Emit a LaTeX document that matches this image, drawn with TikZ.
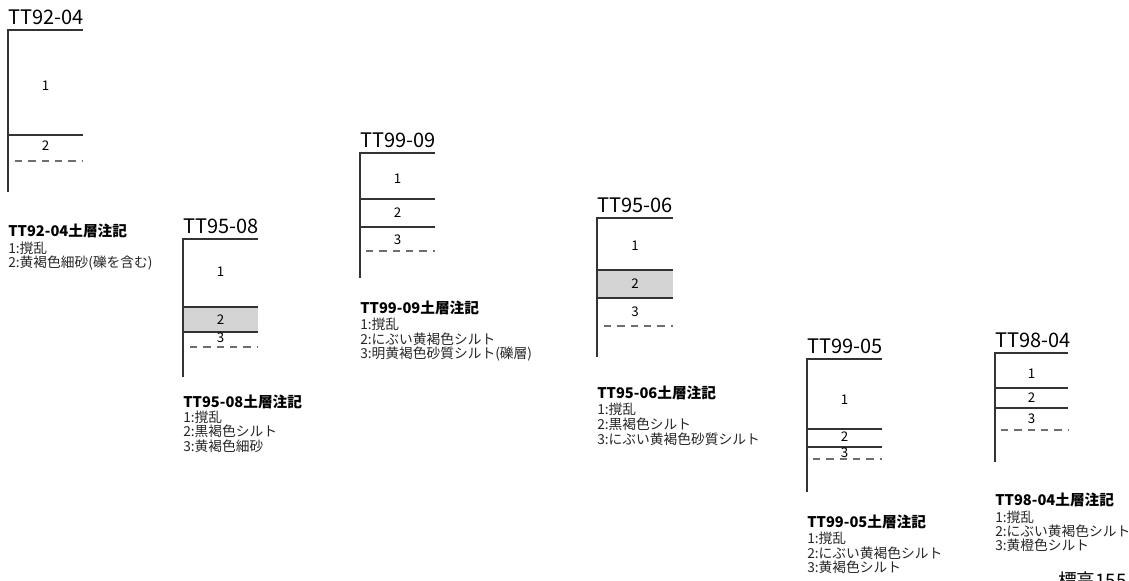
\documentclass[tikz,border=0pt]{standalone}
\usepackage{fontspec}
\setmainfont{Noto Sans CJK JP}
\definecolor{pitline}{HTML}{333333}
\definecolor{dashgray}{HTML}{6E6E6E}
\definecolor{layfill}{HTML}{D4D4D4}
\tikzset{
	pit/.style={draw=pitline,line width=0.8pt},
	sub/.style={draw=dashgray,line width=0.9pt,dash pattern=on 5.6pt off 4.4pt},
	darklay/.style={fill=layfill},
	hole/.style={anchor=base west,inner sep=0pt,font=\fontsize{15}{18}\selectfont},
	lay/.style={inner sep=0pt,font=\fontsize{10}{12}\selectfont},
	memohead/.style={anchor=west,inner sep=0pt,font=\fontsize{11}{13}\selectfont\bfseries},
	memo/.style={anchor=west,inner sep=0pt,text=black!85,font=\fontsize{10.3}{12}\selectfont}
}
\begin{document}
\begin{tikzpicture}[x=0.75pt,y=-0.75pt]
	\useasboundingbox (0,0) rectangle (1129,581);
	% TT92-04
	\node[hole] (t9204) at (8,25) {TT92-04};
	\draw[pit] (83,30) -- (8,30) -- (8,192) (8,135) -- (83,135);
	\draw[sub] (15,161) -- (83,161);
	\foreach \n/\y in {1/86,2/146}
		\node[lay] (n9204-\n) at (45.5,\y) {\n};
	\node[memohead] (m9204) at (8,231) {TT92-04土層注記};
	\foreach \txt [count=\i] in {1:撹乱,2:黄褐色細砂(礫を含む)}
		\node[memo] (m9204-\i) at (8,233+15*\i) {\txt};
	% TT95-08
	\node[hole] (t9508) at (183,233.5) {TT95-08};
	\fill[darklay] (183,307) rectangle (258,332);
	\draw[pit] (258,239) -- (183,239) -- (183,377) (183,307) -- (258,307) (183,332) -- (258,332);
	\draw[sub] (190,347) -- (258,347);
	\foreach \n/\y in {1/272,2/320,3/338}
		\node[lay] (n9508-\n) at (220.5,\y) {\n};
	\node[memohead] (m9508) at (183,402) {TT95-08土層注記};
	\foreach \txt [count=\i] in {1:撹乱,2:黒褐色シルト,3:黄褐色細砂}
		\node[memo] (m9508-\i) at (183,402.5+14.5*\i) {\txt};
	% TT99-09
	\node[hole] (t9909) at (360,147.5) {TT99-09};
	\draw[pit] (435,153) -- (360,153) -- (360,278) (360,199) -- (435,199) (360,227) -- (435,227);
	\draw[sub] (366,251) -- (435,251);
	\foreach \n/\y in {1/179,2/213,3/240}
		\node[lay] (n9909-\n) at (397.5,\y) {\n};
	\node[memohead] (m9909) at (360,308) {TT99-09土層注記};
	\foreach \txt [count=\i] in {1:撹乱,2:にぶい黄褐色シルト,3:明黄褐色砂質シルト(礫層)}
		\node[memo] (m9909-\i) at (360,309.5+15*\i) {\txt};
	% TT95-06
	\node[hole] (t9506) at (597,212.5) {TT95-06};
	\fill[darklay] (597,270) rectangle (673,298);
	\draw[pit] (673,218) -- (597,218) -- (597,357) (597,270) -- (673,270) (597,298) -- (673,298);
	\draw[sub] (604,326) -- (673,326);
	\foreach \n/\y in {1/246,2/284,3/312}
		\node[lay] (n9506-\n) at (635,\y) {\n};
	\node[memohead] (m9506) at (597,393) {TT95-06土層注記};
	\foreach \txt [count=\i] in {1:撹乱,2:黒褐色シルト,3:にぶい黄褐色砂質シルト}
		\node[memo] (m9506-\i) at (597,394.5+15*\i) {\txt};
	% TT99-05
	\node[hole] (t9905) at (807,353.5) {TT99-05};
	\draw[pit] (882,359) -- (807,359) -- (807,492) (807,429) -- (882,429) (807,447) -- (882,447);
	\draw[sub] (813,459) -- (882,459);
	\foreach \n/\y in {1/400,2/437,3/453}
		\node[lay] (n9905-\n) at (844.5,\y) {\n};
	\node[memohead] (m9905) at (807,522) {TT99-05土層注記};
	\foreach \txt [count=\i] in {1:撹乱,2:にぶい黄褐色シルト,3:黄褐色シルト}
		\node[memo] (m9905-\i) at (807,524+14.5*\i) {\txt};
	% TT98-04
	\node[hole] (t9804) at (995,347.5) {TT98-04};
	\draw[pit] (1068,353) -- (995,353) -- (995,462) (995,388) -- (1068,388) (995,408) -- (1068,408);
	\draw[sub] (1001,430) -- (1068,430);
	\foreach \n/\y in {1/374,2/398,3/419}
		\node[lay] (n9804-\n) at (1031.5,\y) {\n};
	\node[memohead] (m9804) at (995,500) {TT98-04土層注記};
	\foreach \txt [count=\i] in {1:撹乱,2:にぶい黄褐色シルト,3:黄橙色シルト}
		\node[memo] (m9804-\i) at (995,503+14*\i) {\txt};
	% elevation
	\node[anchor=north west,inner sep=0pt,font=\fontsize{14}{16}\selectfont] (elev) at (1058,572) {標高155};
\end{tikzpicture}
\end{document}
